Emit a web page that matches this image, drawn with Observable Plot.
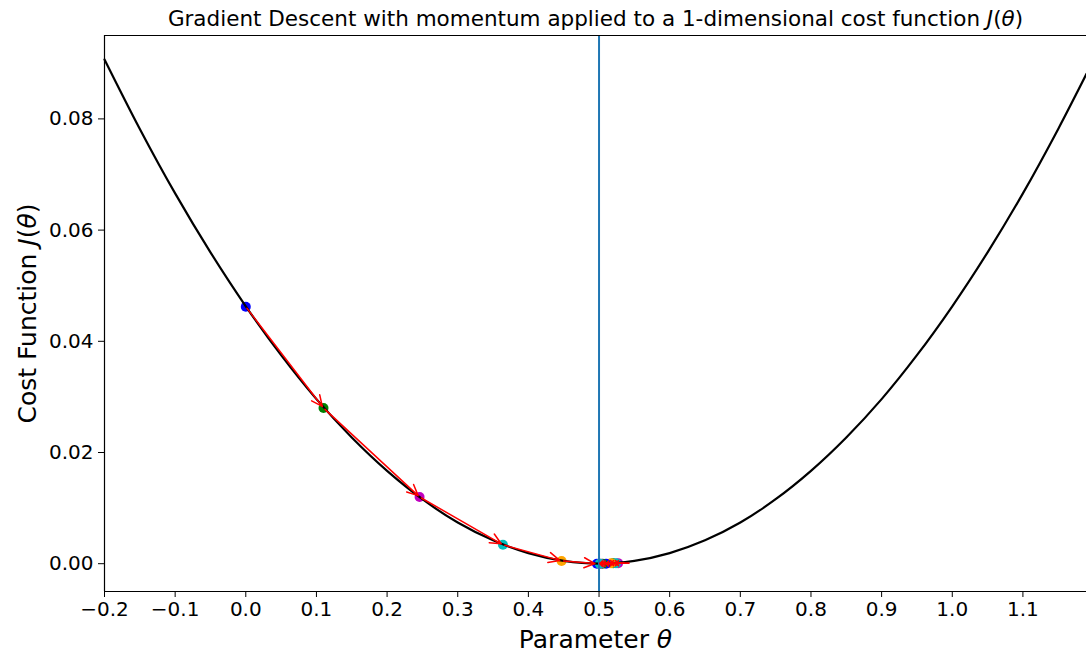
<!DOCTYPE html>
<html>
<head>
<meta charset="utf-8">
<script src="https://cdn.jsdelivr.net/npm/d3@7"></script>
<script src="https://cdn.jsdelivr.net/npm/@observablehq/plot@0.6"></script>
<style>
  html, body { margin: 0; padding: 0; background: #fff; }
  svg { display: block; }
</style>
</head>
<body>
<div id="chart"></div>
<script>
// ---- data ----
const titleText = "Gradient Descent with momentum applied to a 1-dimensional cost function J(θ)";
const xLabel = "Parameter θ";
const yLabel = "Cost Function J(θ)";

// cost curve samples (theta, J)
const curveTheta = [-0.2, -0.15, -0.1, -0.05, 0.0, 0.05, 0.1, 0.15, 0.2, 0.25, 0.3, 0.35, 0.4, 0.45, 0.5,
                    0.55, 0.6, 0.65, 0.7, 0.75, 0.8, 0.85, 0.9, 0.95, 1.0, 1.05, 1.1, 1.15, 1.19];
const curveCost  = [0.0907, 0.0782, 0.0666, 0.0560, 0.0463, 0.0375, 0.0296, 0.0227, 0.0167, 0.0116, 0.0074, 0.0042, 0.0019, 0.0005, 0.0000,
                    0.0005, 0.0019, 0.0042, 0.0074, 0.0116, 0.0167, 0.0227, 0.0296, 0.0375, 0.0463, 0.0560, 0.0666, 0.0782, 0.0881];

// momentum gradient-descent iterates
const stepTheta = [0.000, 0.110, 0.246, 0.364, 0.447, 0.497, 0.520, 0.527, 0.524, 0.517, 0.510, 0.505, 0.502, 0.501];
const stepCost  = [0.0462, 0.0280, 0.0120, 0.0034, 0.0005, 0.0000, 0.0001, 0.0001, 0.0001, 0.0001, 0.0000, 0.0000, 0.0000, 0.0000];

const minimumTheta = [0.5];
const xTicks = [-0.2, -0.1, 0.0, 0.1, 0.2, 0.3, 0.4, 0.5, 0.6, 0.7, 0.8, 0.9, 1.0, 1.1];
const yTicks = [0.00, 0.02, 0.04, 0.06, 0.08];
const xDomain = [-0.2, 1.19];
const yDomain = [-0.005, 0.095];

// ---- styles ----
const palette = ["#0000ff", "#008000", "#bf00bf", "#00bfbf", "#ffa500"];

const curve = curveTheta.map((t, i) => ({theta: t, cost: curveCost[i]}));
const steps = stepTheta.map((t, i) => ({theta: t, cost: stepCost[i], color: palette[i % palette.length]}));
const segs = steps.slice(0, -1).map((d, i) => ({x1: d.theta, y1: d.cost, x2: steps[i + 1].theta, y2: steps[i + 1].cost}));
const longSegs = segs.slice(0, 5);
const shortSegs = segs.slice(5);

const font = "DejaVu Sans";

const svg = Plot.plot({
  width: 1086,
  height: 654,
  marginLeft: 104,
  marginRight: 0,
  marginTop: 35,
  marginBottom: 63,
  style: {fontFamily: font, fontSize: "20px", color: "#000", background: "#fff", overflow: "visible"},
  x: {domain: xDomain},
  y: {domain: yDomain},
  color: {type: "identity"},
  marks: [
    Plot.dot(steps, {x: "theta", y: "cost", r: 5, fill: "color", stroke: null}),
    Plot.line(curve, {x: "theta", y: "cost", stroke: "#000", strokeWidth: 2.2, curve: "catmull-rom"}),
    Plot.ruleX(minimumTheta, {stroke: "#1f77b4", strokeWidth: 2}),
    Plot.arrow(longSegs, {x1: "x1", y1: "y1", x2: "x2", y2: "y2", stroke: "red", strokeWidth: 1.5,
                      headLength: 12, headAngle: 50, insetStart: 2, insetEnd: 2}),
    Plot.vector(shortSegs, {x: "x2", y: "y2", anchor: "end", length: 13, shape: "arrow",
                            rotate: d => (d.x2 >= d.x1 ? 90 : -90), stroke: "red", strokeWidth: 1.6}),
    // spines (left, top, bottom)
    Plot.ruleX(xDomain.slice(0, 1), {stroke: "#000", strokeWidth: 1.2}),
    Plot.ruleY(yDomain, {stroke: "#000", strokeWidth: 1.2}),
    Plot.axisX({ticks: xTicks, tickFormat: d3.format(".1f"), tickSize: 6, tickPadding: 4,
                fontSize: 20, label: null}),
    Plot.axisY({ticks: yTicks, tickFormat: d3.format(".2f"), tickSize: 6, tickPadding: 5,
                fontSize: 20, label: null}),
    Plot.text([titleText], {frameAnchor: "top", dy: -25, fontSize: 21.5, text: d => d}),
    Plot.text([xLabel], {frameAnchor: "bottom", dy: 56, fontSize: 25, text: d => d}),
    Plot.text([yLabel], {frameAnchor: "left", dx: -77, rotate: -90, textAnchor: "middle", fontSize: 25, text: d => d})
  ]
});

// italic math glyphs (J and θ) as in mathtext
const NS = "http://www.w3.org/2000/svg";
svg.querySelectorAll("text").forEach(el => {
  if (el.querySelector("tspan")) return;
  const s = el.textContent;
  if (!s.includes("θ")) return;
  el.textContent = "";
  s.split(/(J(?=\()|θ)/).forEach(p => {
    if (!p) return;
    const t = document.createElementNS(NS, "tspan");
    if (p === "J" || p === "θ") t.setAttribute("font-style", "italic");
    t.textContent = p;
    el.appendChild(t);
  });
});

document.getElementById("chart").appendChild(svg);
</script>
</body>
</html>
